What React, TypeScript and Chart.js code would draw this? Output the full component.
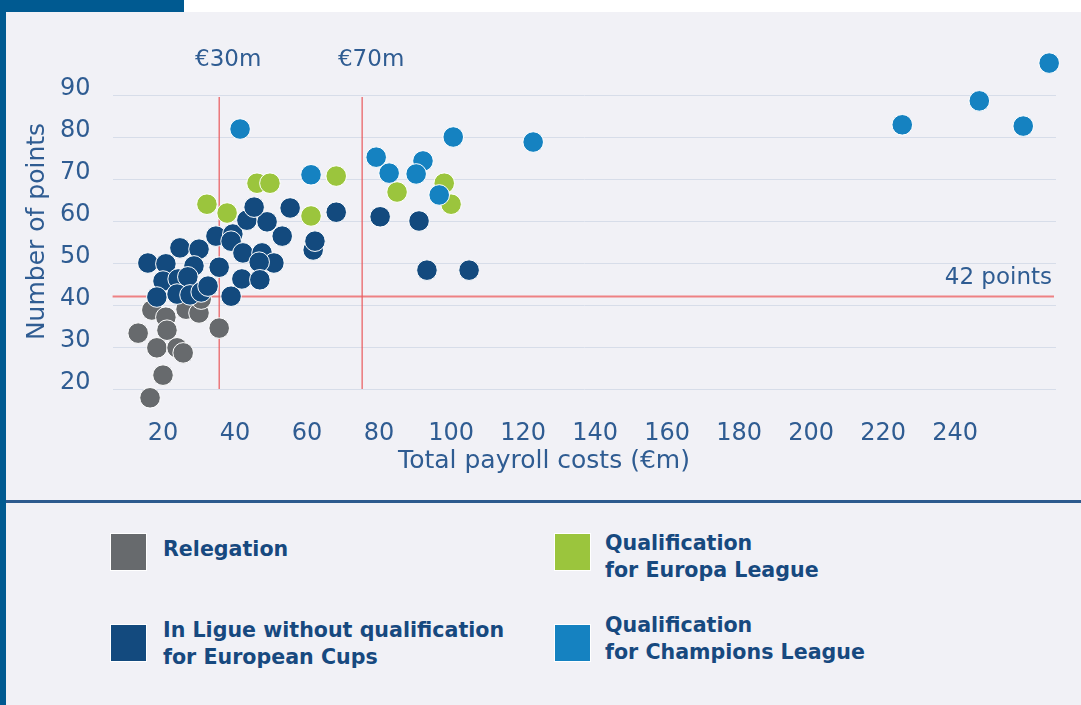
import React, { useEffect, useRef } from "react";
import { Chart, registerables } from "chart.js";

Chart.register(...registerables);

// ---------- data ----------
const seriesLabels = [
  "Relegation",
  "In Ligue without qualification for European Cups",
  "Qualification for Europa League",
  "Qualification for Champions League",
];
const seriesColors = ["#676a6d", "#134a7e", "#9bc53d", "#1582c1"];

const relegationPayroll = [16.9, 20.8, 26.4, 30.0, 30.6, 13.1, 21.1, 35.6, 18.3, 23.9, 25.6, 20.0, 16.4];
const relegationPoints = [38.8, 37.1, 39.0, 38.1, 41.4, 33.3, 34.0, 34.5, 29.8, 29.8, 28.6, 23.3, 17.9];

const ligueRestPayroll = [
  15.8, 20.8, 24.7, 30.0, 28.6, 20.0, 24.2, 26.9, 18.3, 23.9, 27.5, 30.6, 32.5, 35.6, 34.7, 39.4, 38.9, 38.9,
  42.2, 47.5, 50.8, 46.7, 41.9, 46.9, 43.3, 48.9, 53.1, 45.3, 55.3, 61.7, 62.2, 68.1, 80.3, 91.1, 93.3, 105.0,
];
const ligueRestPoints = [
  50.0, 49.8, 53.6, 53.3, 49.3, 45.7, 46.2, 46.7, 41.9, 42.6, 42.4, 43.1, 44.5, 49.0, 56.4, 56.9, 55.2, 42.1,
  52.4, 52.4, 50.0, 50.2, 46.2, 46.0, 60.2, 59.8, 56.4, 63.3, 63.1, 53.1, 55.2, 62.1, 61.0, 60.0, 48.3, 48.3,
];

const europaPayroll = [32.2, 37.8, 46.1, 49.7, 68.1, 61.1, 85.0, 98.1, 100.0];
const europaPoints = [64.0, 61.9, 69.0, 69.0, 70.7, 61.2, 66.9, 69.0, 64.0];

const championsPayroll = [41.4, 61.1, 79.2, 82.8, 92.2, 90.3, 100.6, 96.7, 122.8, 225.3, 246.7, 258.9, 266.1];
const championsPoints = [81.9, 71.0, 75.2, 71.4, 74.3, 71.2, 80.0, 66.2, 78.8, 82.9, 88.6, 82.6, 97.6];

const xTicks = [20, 40, 60, 80, 100, 120, 140, 160, 180, 200, 220, 240];
const yTicks = [20, 30, 40, 50, 60, 70, 80, 90];

const payrollThresholds = [35.6, 75.3];
const payrollThresholdLabels = ["€30m", "€70m"];
const pointsThreshold = 42;
const pointsThresholdLabel = "42 points";

const xTitle = "Total payroll costs (€m)";
const yTitle = "Number of points";

const legendLines = [
  ["Relegation"],
  ["In Ligue without qualification", "for European Cups"],
  ["Qualification", "for Europa League"],
  ["Qualification", "for Champions League"],
];

// ---------- styles ----------
const FONT = "'DejaVu Sans', sans-serif";
const TEXT_BLUE = "#2f5c92";
const LEGEND_TEXT = "#17497f";

const toPoints = (xs: number[], ys: number[]) => xs.map((x, i) => ({ x, y: ys[i] }));

const thresholdPlugin = {
  id: "thresholds",
  beforeDatasetsDraw(chart: any) {
    const { ctx, chartArea, scales } = chart;
    const xs = scales.x;
    const ys = scales.y;
    ctx.save();
    const hy = ys.getPixelForValue(pointsThreshold);
    ctx.strokeStyle = "#ee8183";
    ctx.lineWidth = 2;
    ctx.beginPath();
    ctx.moveTo(chartArea.left, hy);
    ctx.lineTo(chartArea.right - 2, hy);
    ctx.stroke();
    const top = ys.getPixelForValue(yTicks[yTicks.length - 1]) + 2;
    const bottom = ys.getPixelForValue(yTicks[0]);
    ctx.strokeStyle = "#e9585b";
    ctx.lineWidth = 1.2;
    payrollThresholds.forEach((v) => {
      const px = xs.getPixelForValue(v);
      ctx.beginPath();
      ctx.moveTo(px, top);
      ctx.lineTo(px, bottom);
      ctx.stroke();
    });
    ctx.restore();
  },
  afterDraw(chart: any) {
    const { ctx, chartArea, scales } = chart;
    const xs = scales.x;
    const ys = scales.y;
    ctx.save();
    ctx.fillStyle = TEXT_BLUE;
    ctx.font = `23px ${FONT}`;
    ctx.textBaseline = "middle";
    ctx.textAlign = "center";
    const labelY = ys.getPixelForValue(yTicks[yTicks.length - 1]) - 35;
    payrollThresholds.forEach((v, i) => {
      ctx.fillText(payrollThresholdLabels[i], xs.getPixelForValue(v) + 9, labelY);
    });
    ctx.textAlign = "right";
    ctx.fillText(pointsThresholdLabel, chartArea.right - 4, ys.getPixelForValue(pointsThreshold) - 19);
    ctx.textAlign = "center";
    ctx.font = `25px ${FONT}`;
    ctx.fillText(xTitle, 544, 461);
    ctx.restore();
  },
};

export default function App() {
  const canvasRef = useRef<HTMLCanvasElement | null>(null);

  useEffect(() => {
    document.body.style.margin = "0";
    const canvas = canvasRef.current;
    if (!canvas) return;
    const mk = (i: number, xs: number[], ys: number[], order: number) => ({
      label: seriesLabels[i],
      data: toPoints(xs, ys),
      backgroundColor: seriesColors[i],
      borderColor: "#ffffff",
      borderWidth: 1,
      pointRadius: 10.3,
      pointHoverRadius: 10.3,
      order,
      clip: false as any,
    });
    const chart = new Chart(canvas, {
      type: "scatter",
      data: {
        datasets: [
          mk(0, relegationPayroll, relegationPoints, 4),
          mk(1, ligueRestPayroll, ligueRestPoints, 3),
          mk(2, europaPayroll, europaPoints, 2),
          mk(3, championsPayroll, championsPoints, 1),
        ],
      },
      options: {
        animation: false,
        responsive: false,
        maintainAspectRatio: false,
        events: [],
        layout: { padding: { left: 0, top: 53, right: 25, bottom: 0 } },
        plugins: {
          legend: { display: false },
          tooltip: { enabled: false },
        },
        scales: {
          x: {
            type: "linear",
            min: 6,
            max: 268,
            afterBuildTicks: (s: any) => {
              s.ticks = xTicks.map((v) => ({ value: v }));
            },
            afterFit: (s: any) => {
              s.height = 90;
            },
            grid: { display: false },
            border: { display: false },
            ticks: {
              color: TEXT_BLUE,
              font: { family: FONT, size: 24 },
              padding: 1,
              maxRotation: 0,
              autoSkip: false,
            },
          },
          y: {
            type: "linear",
            min: 15,
            max: 100,
            afterBuildTicks: (s: any) => {
              s.ticks = yTicks.map((v) => ({ value: v }));
            },
            afterFit: (s: any) => {
              s.width = 112.6;
            },
            grid: { color: "#d7dde9", lineWidth: 1, drawTicks: false },
            border: { display: false },
            ticks: {
              color: TEXT_BLUE,
              font: { family: FONT, size: 24 },
              padding: 22,
              labelOffset: -6,
            },
            title: {
              display: true,
              text: yTitle,
              color: TEXT_BLUE,
              font: { family: FONT, size: 25 },
              padding: { top: 22, bottom: 0 },
            },
          },
        },
      },
      plugins: [thresholdPlugin],
    });
    return () => chart.destroy();
  }, []);

  const legendPos = [
    { sq: [110, 533], text: [163, 535.5] },
    { sq: [110, 624], text: [163, 616.5] },
    { sq: [554, 533], text: [605, 529.5] },
    { sq: [554, 624], text: [605, 611.5] },
  ];

  return (
    <div
      style={{
        position: "relative",
        width: 1081,
        height: 705,
        background: "#f1f1f6",
        overflow: "hidden",
        fontFamily: FONT,
      }}
    >
      <div style={{ position: "absolute", left: 184, top: 0, right: 0, height: 12, background: "#ffffff" }} />
      <div style={{ position: "absolute", left: 0, top: 0, width: 184, height: 12, background: "#005a91" }} />
      <div style={{ position: "absolute", left: 0, top: 0, width: 6, height: 705, background: "#005a91" }} />
      <div style={{ position: "absolute", left: 6, top: 500, right: 0, height: 3, background: "#2d5a8e" }} />
      <canvas
        ref={canvasRef}
        width={1081}
        height={500}
        style={{ position: "absolute", left: 0, top: 0, width: 1081, height: 500 }}
      />
      {legendPos.map((p, i) => (
        <React.Fragment key={i}>
          <div
            style={{
              position: "absolute",
              left: p.sq[0],
              top: p.sq[1],
              width: 35,
              height: 36,
              background: seriesColors[i],
              border: "1px solid #ffffff",
            }}
          />
          <div
            style={{
              position: "absolute",
              left: p.text[0],
              top: p.text[1],
              color: LEGEND_TEXT,
              fontWeight: 700,
              fontSize: 20.6,
              lineHeight: "27px",
              whiteSpace: "nowrap",
            }}
          >
            {legendLines[i].map((l, j) => (
              <div key={j}>{l}</div>
            ))}
          </div>
        </React.Fragment>
      ))}
    </div>
  );
}
